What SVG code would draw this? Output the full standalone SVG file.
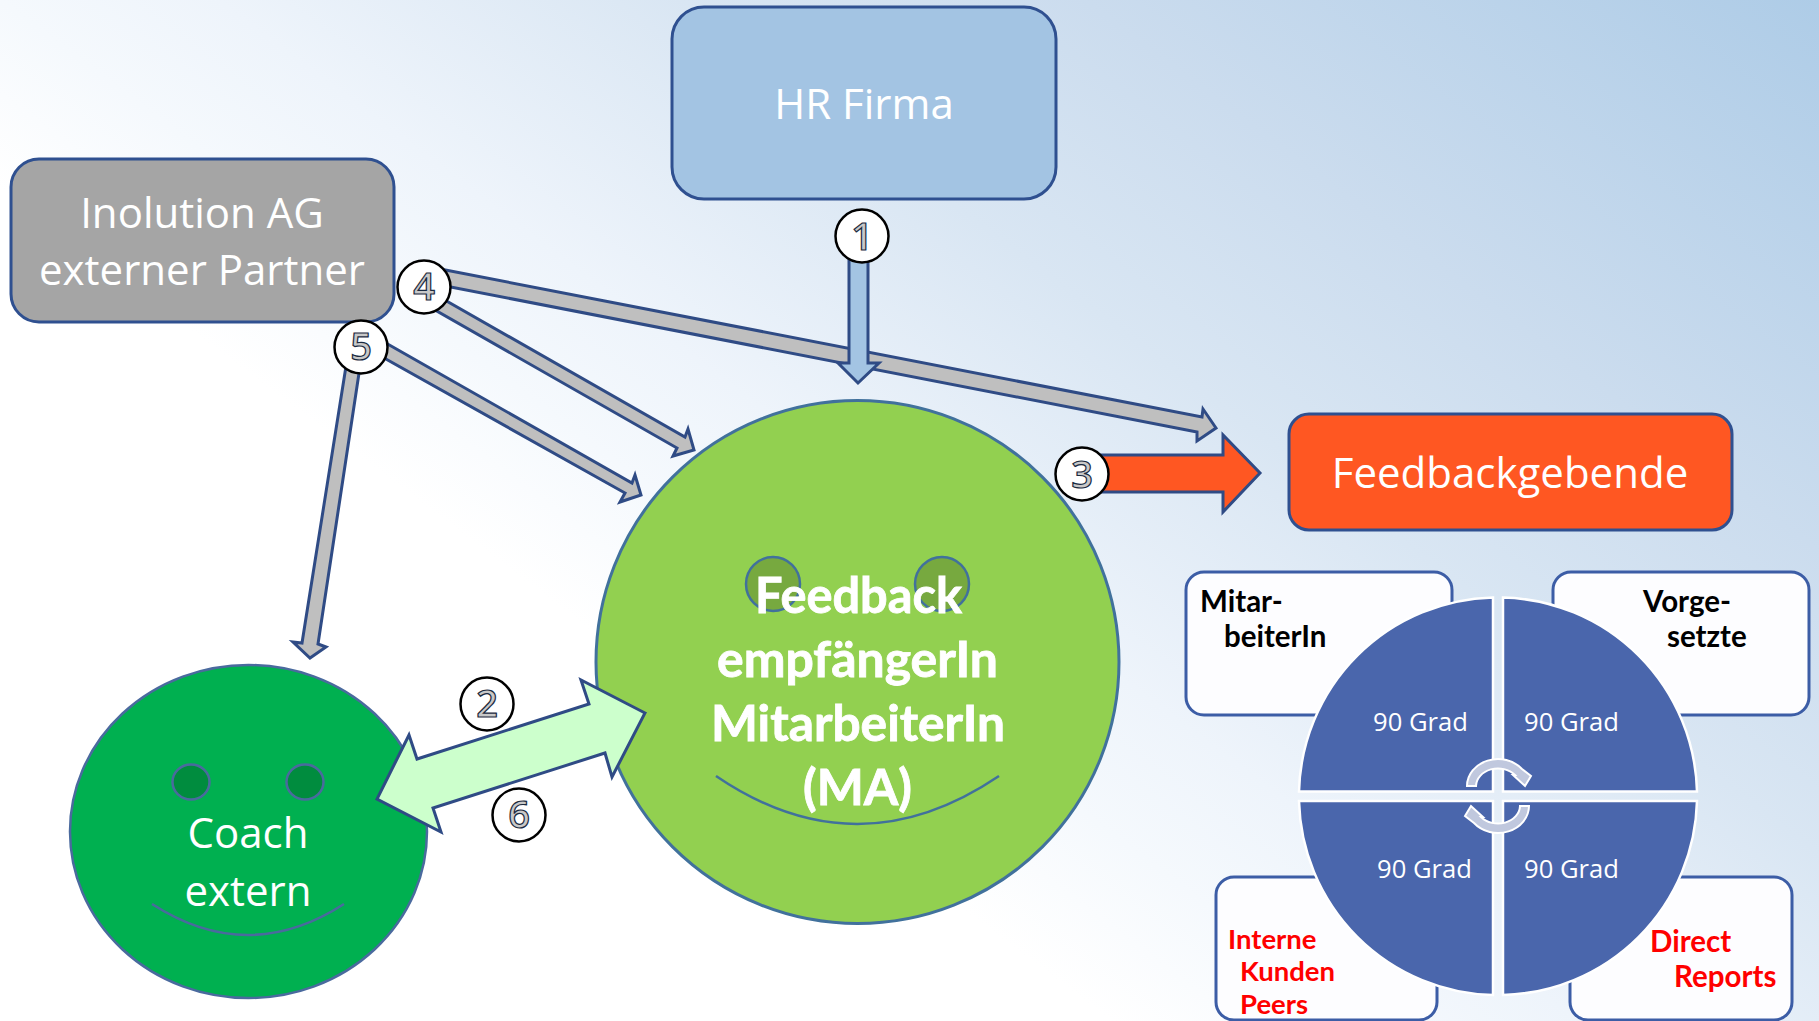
<svg xmlns="http://www.w3.org/2000/svg" width="1819" height="1021" viewBox="0 0 1819 1021">
<defs>
<linearGradient id="bg" gradientUnits="userSpaceOnUse" x1="0" y1="187.5" x2="744.6" y2="-805.3">
<stop offset="0" stop-color="#ffffff"/><stop offset="0.121" stop-color="#f5f9fd"/><stop offset="0.226" stop-color="#eef4fb"/><stop offset="0.45" stop-color="#d9e6f3"/><stop offset="0.645" stop-color="#cbdcee"/><stop offset="1" stop-color="#aecce7"/>
</linearGradient>
<style>
text{font-family:"Open Sans","Noto Sans","Liberation Sans",sans-serif}
.lbl{fill:#fff;text-anchor:middle;font-size:42px}
.big{font-family:Lato,"Open Sans",sans-serif;fill:#fff;stroke:#fff;stroke-width:0.8;font-size:49px;font-weight:700}
.deg{fill:#fff;font-size:25.6px}
.blk,.red{font-family:Lato,"Liberation Sans",sans-serif;font-weight:700;font-size:29.5px}
.blk{fill:#000}.red{fill:#f00}.sm{font-size:27.5px}
.box{stroke:#2f5090;stroke-width:3}
.card{fill:#fdfdff;stroke:#3c5da6;stroke-width:3}
.arrow{stroke:#2f4b85;stroke-width:3;stroke-linejoin:miter}
.gray{fill:#bfbfbf}
.pie{fill:#4a66ac;stroke:#fff;stroke-width:2.5}
.cyc{fill:#c0c8de;stroke:#fff;stroke-width:2}
.badge{fill:#fff;stroke:#000;stroke-width:2.5}
.num{fill:#c8c8c8;stroke:#1a2a40;stroke-width:1.2;text-anchor:middle;font-size:38px;font-weight:600}
.eye{stroke:#41719c;stroke-width:2.5}
.smile{fill:none;stroke-width:2.5;stroke:#41719c}
.coachline{stroke:#4a6a9e}
</style>
</defs>
<rect width="1819" height="1021" fill="url(#bg)"/>

<g id="node-hr"><rect class="box" x="672" y="7" width="384" height="192" rx="32" fill="#a3c4e3"/><text class="lbl" x="864" y="119">HR Firma</text></g>
<g id="node-inolution"><rect class="box" x="11" y="159" width="383" height="163" rx="28" fill="#a5a5a5"/><text class="lbl" x="202" y="228">Inolution AG</text><text class="lbl" x="202" y="285">externer Partner</text></g>
<g id="node-feedbackgebende"><rect class="box" x="1289" y="414" width="443" height="116" rx="20" fill="#ff5722"/><text class="lbl" x="1510" y="488">Feedbackgebende</text></g>
<g id="node-ma"><circle cx="857.5" cy="662" r="261.5" fill="#92d050" stroke="#41719c" stroke-width="3"/>
<circle class="eye" cx="773" cy="584" r="27" fill="#77a93f"/><circle class="eye" cx="942" cy="584" r="27" fill="#77a93f"/>
<path class="smile" d="M716 776Q857 872 999 776"/>
<text class="big" x="755" y="613" textLength="207" lengthAdjust="spacingAndGlyphs">Feedback</text><text class="big" x="717" y="677" textLength="281" lengthAdjust="spacingAndGlyphs">empfängerIn</text><text class="big" x="711" y="741" textLength="294" lengthAdjust="spacingAndGlyphs">MitarbeiterIn</text><text class="big" x="803" y="805" textLength="109" lengthAdjust="spacingAndGlyphs">(MA)</text></g>
<g id="node-coach"><ellipse class="coachline" cx="248.5" cy="831.5" rx="178.5" ry="166.5" fill="#00b050" stroke-width="2.5"/>
<ellipse class="eye coachline" cx="191" cy="782" rx="18.5" ry="17.5" fill="#008c3e"/><ellipse class="eye coachline" cx="305" cy="782" rx="18.5" ry="17.5" fill="#008c3e"/>
<path class="smile coachline" d="M152 904Q248 966 344 904"/>
<text class="lbl" x="248" y="848">Coach</text><text class="lbl" x="248" y="906">extern</text></g>

<g id="node-mitarbeiter"><rect class="card" x="1186" y="572" width="266" height="143" rx="18"/><text class="blk" x="1200" y="612">Mitar-</text><text class="blk" x="1224" y="647">beiterIn</text></g>
<g id="node-vorgesetzte"><rect class="card" x="1553" y="572" width="256" height="143" rx="18"/><text class="blk" x="1643" y="612">Vorge-</text><text class="blk" x="1667" y="647">setzte</text></g>
<g id="node-interne"><rect class="card" x="1216" y="877" width="221" height="143" rx="18"/><text class="red sm" x="1228" y="949">Interne</text><text class="red sm" x="1240" y="981">Kunden</text><text class="red sm" x="1240" y="1014">Peers</text></g>
<g id="node-direct"><rect class="card" x="1570" y="877" width="222" height="143" rx="18"/><text class="red" x="1650" y="952">Direct</text><text class="red" x="1674" y="987">Reports</text></g>

<g id="node-q1"><path class="pie" d="M1493 791.5H1299A199 199 0 0 1 1493 597.5Z"/><text class="deg" x="1373" y="731">90 Grad</text></g>
<g id="node-q2"><path class="pie" d="M1503 791.5H1697A199 199 0 0 0 1503 597.5Z"/><text class="deg" x="1524" y="731">90 Grad</text></g>
<g id="node-q3"><path class="pie" d="M1493 801H1299A199 199 0 0 0 1493 995Z"/><text class="deg" x="1377" y="878">90 Grad</text></g>
<g id="node-q4"><path class="pie" d="M1503 801H1697A199 199 0 0 1 1503 995Z"/><text class="deg" x="1524" y="878">90 Grad</text></g>
<g id="node-cycle">
<path class="cyc" d="M1467 786A31 27 0 0 1 1522 769L1531 776L1525 786L1513 775L1515 775A22 18 0 0 0 1476 786Z"/>
<path class="cyc" d="M1529 806A31 27 0 0 1 1474 823L1465 816L1471 806L1483 817L1481 817A22 18 0 0 0 1520 806Z"/>
</g>

<g id="connectors">
<path class="arrow gray" d="M430 267L1202 417L1203 409L1216 428L1197 441L1197 432L430 283Z"/>
<path class="arrow gray" d="M429 291L685 437L688 429L694 450L673 456L677 448L421 302Z"/>
<path class="arrow gray" d="M370 334L632 483L635 475L641 495L620 502L625 493L368 349Z"/>
<path class="arrow gray" d="M347 360L302 643L293 642L310 658L326 647L318 644L361 360Z"/>
<path class="arrow" fill="#a3c4e3" d="M849 240V363H838L858 383L879 363H868V240Z"/>
<path class="arrow" fill="#ff5722" d="M1085 455H1223V435L1260 473L1223 512V492H1085Z"/>
<path class="arrow" fill="#ccffcc" d="M645 713L581 680L589 704L417 759L409 735L377 799L441 832L433 808L605 753L612 777Z"/>
</g>

<g id="node-n1"><circle class="badge" cx="862" cy="236" r="26.5"/><text class="num" x="862" y="250">1</text></g>
<g id="node-n2"><circle class="badge" cx="487" cy="704" r="26.5"/><text class="num" x="487" y="717">2</text></g>
<g id="node-n3"><circle class="badge" cx="1082" cy="474" r="26.5"/><text class="num" x="1082" y="488">3</text></g>
<g id="node-n4"><circle class="badge" cx="424" cy="287" r="26.5"/><text class="num" x="424" y="300">4</text></g>
<g id="node-n5"><circle class="badge" cx="361" cy="347" r="26.5"/><text class="num" x="361" y="360">5</text></g>
<g id="node-n6"><circle class="badge" cx="519" cy="815" r="26.5"/><text class="num" x="519" y="828">6</text></g>
</svg>
